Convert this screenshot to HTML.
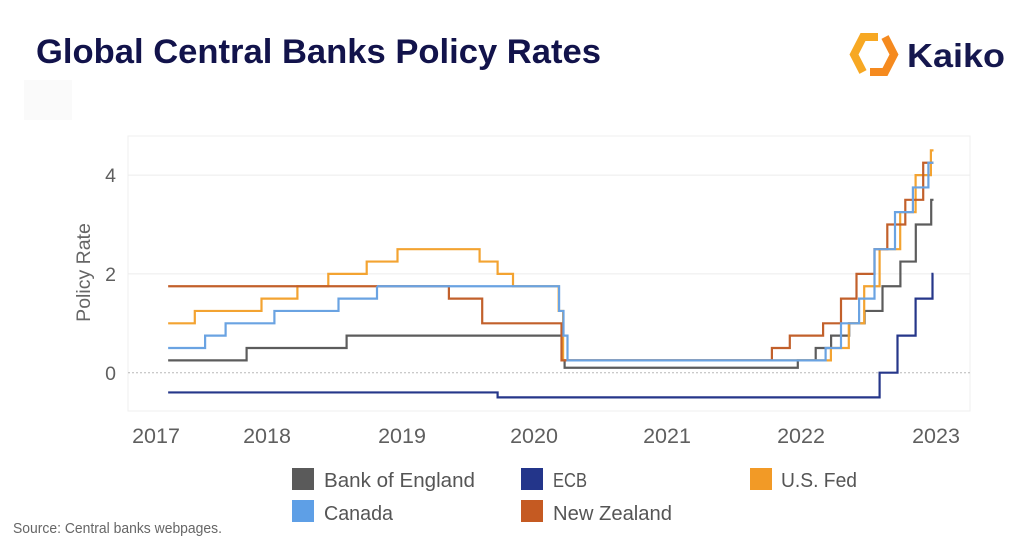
<!DOCTYPE html>
<html>
<head>
<meta charset="utf-8">
<style>
html,body{margin:0;padding:0;background:#fff;}
svg{display:block;}
text{font-family:"Liberation Sans",Arial,sans-serif;}
</style>
</head>
<body>
<svg width="1024" height="540" viewBox="0 0 1024 540" xmlns="http://www.w3.org/2000/svg">
  <rect x="0" y="0" width="1024" height="540" fill="#ffffff"/>

  <!-- Title -->
  <text x="36" y="63" font-size="34" font-weight="bold" fill="#12134b" textLength="565" lengthAdjust="spacingAndGlyphs">Global Central Banks Policy Rates</text>

  <!-- Kaiko logo -->
  <polyline points="878,37 863,37 854,54.5 863,72" fill="none" stroke="#f7a823" stroke-width="8" stroke-linejoin="miter"/>
  <polyline points="870,72 885,72 894,54.5 885,37" fill="none" stroke="#f58a1f" stroke-width="8" stroke-linejoin="miter"/>
  <text x="907" y="67" font-size="33" font-weight="bold" fill="#15174e" textLength="98" lengthAdjust="spacingAndGlyphs">Kaiko</text>

  <!-- faint box -->
  <rect x="24" y="80" width="48" height="40" fill="#fafafa"/>

  <!-- Plot frame -->
  <rect x="128" y="136" width="842" height="275" fill="none" stroke="#efefef" stroke-width="1"/>
  <!-- gridlines -->
  <line x1="128" y1="175.1" x2="970" y2="175.1" stroke="#ececec" stroke-width="1"/>
  <line x1="128" y1="273.9" x2="970" y2="273.9" stroke="#ececec" stroke-width="1"/>
  <line x1="128" y1="372.7" x2="970" y2="372.7" stroke="#b8b8b8" stroke-width="1" stroke-dasharray="2,2"/>

  <!-- Y tick labels -->
  <g font-size="19.5" fill="#5f5f5f" text-anchor="end">
    <text x="116" y="182">4</text>
    <text x="116" y="281">2</text>
    <text x="116" y="380">0</text>
  </g>
  <text transform="translate(90,272.5) rotate(-90)" font-size="19.5" fill="#666" text-anchor="middle">Policy Rate</text>

  <!-- X tick labels -->
  <g font-size="21.5" fill="#5f5f5f" text-anchor="middle">
    <text x="156" y="443">2017</text>
    <text x="267" y="443">2018</text>
    <text x="402" y="443">2019</text>
    <text x="534" y="443">2020</text>
    <text x="667" y="443">2021</text>
    <text x="801" y="443">2022</text>
    <text x="936" y="443">2023</text>
  </g>

  <!-- Series -->
  <g fill="none" stroke-width="2.2" stroke-linejoin="miter">
    <!-- Bank of England -->
    <path stroke="#5c5c5c" d="M168.15,360.35 H246.6 V348 H346.6 V335.65 H561.7 V360.35 H564.6 V367.76 H797.8 V360.35 H815.7 V348 H831.1 V335.65 H849.2 V323.3 H864.6 V310.95 H882.5 V286.25 H900.4 V261.55 H915.8 V224.5 H931.2 V199.8 H933.5"/>
    <!-- ECB -->
    <path stroke="#26378a" d="M168.15,392.46 H497.6 V397.4 H879.6 V372.7 H897.5 V335.65 H915.6 V298.6 H932.5 V273.9 H933.5"/>
    <!-- U.S. Fed -->
    <path stroke="#f3a331" d="M168.15,323.3 H194.8 V310.95 H261.5 V298.6 H297.4 V286.25 H328.3 V273.9 H366.7 V261.55 H397.5 V249.2 H479.6 V261.55 H497.6 V273.9 H513.0 V286.25 H558.7 V310.95 H563.1 V360.35 H830.9 V348 H848.8 V323.3 H864.2 V286.25 H879.6 V249.2 H900.2 V212.15 H915.6 V175.1 H930.9 V150.4 H933.5"/>
    <!-- New Zealand -->
    <path stroke="#c2602b" d="M168.15,286.25 H448.9 V298.6 H482.2 V323.3 H561.5 V360.35 H771.9 V348 H789.8 V335.65 H823.1 V323.3 H841.0 V298.6 H856.5 V273.9 H874.5 V249.2 H887.3 V224.5 H905.3 V199.8 H923.2 V162.75 H933.5"/>
    <!-- Canada -->
    <path stroke="#6aa3e2" d="M377.0,286.25 H559.1 V310.95 H563.5 V335.65 H567.5 V360.35 H825.6 V348 H841.0 V323.3 H859.1 V298.6 H874.5 V249.2 H895.0 V212.15 H912.9 V187.45 H928.4 V162.75 H933.5"/>
    <path stroke="#6aa3e2" d="M168.15,348 H205.1 V335.65 H225.6 V323.3 H274.4 V310.95 H338.5 V298.6 H377.0 V286.25"/>
  </g>

  <!-- Legend -->
  <rect x="292" y="468" width="22" height="22" fill="#5a5a5a"/>
  <text x="324" y="487" font-size="20.5" fill="#555" textLength="151" lengthAdjust="spacingAndGlyphs">Bank of England</text>
  <rect x="521" y="468" width="22" height="22" fill="#23358a"/>
  <text x="553" y="487" font-size="20.5" fill="#555" textLength="34" lengthAdjust="spacingAndGlyphs">ECB</text>
  <rect x="750" y="468" width="22" height="22" fill="#f29a26"/>
  <text x="781" y="487" font-size="20.5" fill="#555" textLength="76" lengthAdjust="spacingAndGlyphs">U.S. Fed</text>

  <rect x="292" y="500" width="22" height="22" fill="#5e9fe6"/>
  <text x="324" y="520" font-size="20.5" fill="#555" textLength="69" lengthAdjust="spacingAndGlyphs">Canada</text>
  <rect x="521" y="500" width="22" height="22" fill="#c55a22"/>
  <text x="553" y="520" font-size="20.5" fill="#555" textLength="119" lengthAdjust="spacingAndGlyphs">New Zealand</text>

  <!-- Source -->
  <text x="13" y="533" font-size="15" fill="#666" textLength="209" lengthAdjust="spacingAndGlyphs">Source: Central banks webpages.</text>
</svg>
</body>
</html>
